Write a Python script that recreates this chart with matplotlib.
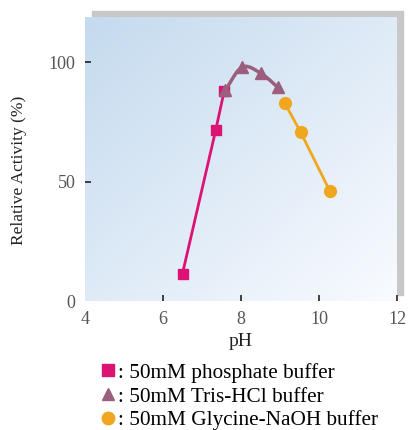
import numpy as np
from matplotlib import pyplot as plt
from matplotlib.patches import Rectangle
from matplotlib.lines import Line2D

plt.rcParams['font.family'] = ['Liberation Serif', 'DejaVu Serif']

# data
ph_phosphate = [6.5, 7.35, 7.57]
act_phosphate = [11.5, 71.5, 88.0]
ph_tris = [7.6, 8.03, 8.5, 8.95]
act_tris = [88.5, 98.0, 95.5, 89.5]
ph_glycine = [9.12, 9.53, 10.28]
act_glycine = [83.0, 70.7, 46.0]

labels = [': 50mM phosphate buffer', ': 50mM Tris-HCl buffer', ': 50mM Glycine-NaOH buffer']
c_phos = '#dc1274'
c_tris = '#9b5e7c'
c_gly = '#f0a61e'


def smooth(xs, ys, n=20):
    # catmull-rom through the points, only for drawing the curve
    p = np.column_stack([xs, ys]).astype(float)
    p = np.vstack([2 * p[0] - p[1], p, 2 * p[-1] - p[-2]])
    out = []
    for i in range(1, len(p) - 2):
        p0, p1, p2, p3 = p[i - 1], p[i], p[i + 1], p[i + 2]
        t = np.linspace(0, 1, n)[:, None]
        seg = 0.5 * ((2 * p1) + (-p0 + p2) * t + (2 * p0 - 5 * p1 + 4 * p2 - p3) * t ** 2
                     + (-p0 + 3 * p1 - 3 * p2 + p3) * t ** 3)
        out.append(seg)
    out = np.vstack(out)
    return out[:, 0], out[:, 1]


fig = plt.figure(figsize=(4.09, 4.30), dpi=100)
# gray shadow behind the plot area
fig.patches.append(Rectangle((92 / 409, 1 - 295 / 430), 311 / 409, 284 / 430,
                             transform=fig.transFigure, color='#c8c8c8', zorder=0))
ax = fig.add_axes([85 / 409, 1 - 301 / 430, 312 / 409, 284 / 430])
ax.set_zorder(1)
ax.patch.set_alpha(0)

# diagonal gradient background, blue at top left
gx, gy = np.meshgrid(np.linspace(0, 1, 200), np.linspace(0, 1, 200))
g = (gx + gy) / 2
c0 = np.array([0.77, 0.855, 0.935])
c1 = np.array([0.975, 0.985, 1.0])
img = c0[None, None, :] * (1 - g[..., None]) + c1[None, None, :] * g[..., None]
ax.imshow(img, extent=[0, 1, 0, 1], transform=ax.transAxes, aspect='auto', zorder=0,
          origin='upper')

ax.plot(ph_phosphate, act_phosphate, color=c_phos, lw=2, marker='s', ms=7.5, zorder=3)
sx, sy = smooth(ph_tris, act_tris)
ax.plot(sx, sy, color=c_tris, lw=2.5, zorder=3)
ax.plot(ph_tris, act_tris, ls='none', color=c_tris, marker='^', ms=9, zorder=4)
ax.plot(ph_glycine, act_glycine, color=c_gly, lw=2, marker='o', ms=8.5, zorder=3)

ax.set_xlim(4, 12)
ax.set_ylim(0, 119)
ax.set_xticks([4, 6, 8, 10, 12])
ax.set_yticks([0, 50, 100])
for s in ax.spines.values():
    s.set_visible(False)
ax.tick_params(direction='in', length=4, width=1.2, colors='#222222', labelsize=13,
               labelcolor='#555555', pad=7)
# no tick marks at the origin corner
ax.xaxis.get_major_ticks()[0].tick1line.set_visible(False)
ax.yaxis.get_major_ticks()[0].tick1line.set_visible(False)
ax.set_xlabel('pH', fontsize=14, color='#222222', labelpad=4)
ax.set_ylabel('Relative Activity (%)', fontsize=12.5, color='#222222')
ax.yaxis.set_label_coords(-0.185, 0.46)

handles = [Line2D([], [], ls='none', marker='s', color=c_phos, ms=8),
           Line2D([], [], ls='none', marker='^', color=c_tris, ms=9),
           Line2D([], [], ls='none', marker='o', color=c_gly, ms=9)]
fig.legend(handles, labels, loc='upper left', bbox_to_anchor=(102 / 409, 1 - 363 / 430),
           frameon=False, fontsize=15.3, handlelength=0.6, handletextpad=0.15,
           labelspacing=0.18, borderpad=0, borderaxespad=0)

fig.savefig('out.png', dpi=100)
